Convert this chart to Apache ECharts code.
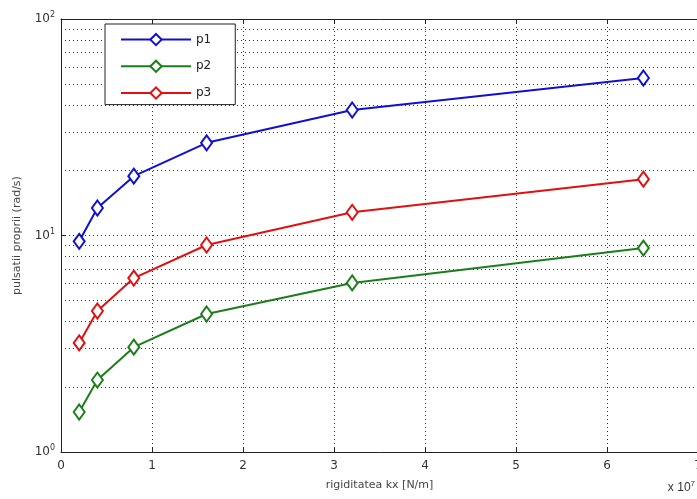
<!DOCTYPE html>
<html>
<head>
<meta charset="utf-8">
<script src="https://cdn.jsdelivr.net/npm/echarts@6/dist/echarts.min.js"></script>
<style>html,body{margin:0;padding:0;background:#fff;}</style>
</head>
<body>
<div id="main" style="width:697px;height:499px;"></div>
<script>
// rigiditatea kx (x 10^7 N/m)
var kx = [0.2, 0.4, 0.8, 1.6, 3.2, 6.4];
var p1 = [9.4, 13.4, 18.8, 26.8, 38.0, 53.4];
var p2 = [1.53, 2.15, 3.05, 4.34, 6.04, 8.75];
var p3 = [3.19, 4.48, 6.36, 9.04, 12.8, 18.2];
var minorY = [2, 3, 4, 5, 6, 7, 8, 9, 20, 30, 40, 50, 60, 70, 80, 90];
var xTicks = [0, 1, 2, 3, 4, 5, 6, 7];

function pairs(ys) {
    return kx.map(function (x, i) { return [x, ys[i]]; });
}

function lineSeries(name, ys, col) {
    return {
        name: name,
        type: 'line',
        data: pairs(ys),
        symbol: 'diamond',
        symbolSize: [11, 15],
        lineStyle: {width: 2, color: col},
        itemStyle: {color: '#fff', borderColor: col, borderWidth: 2},
        z: 5
    };
}

var dotted = {color: '#333', type: [1, 3], width: 1};

var chart = echarts.init(document.getElementById('main'));
var s1 = lineSeries('p1', p1, '#1010d0');
var s2 = lineSeries('p2', p2, '#1a7f1a');
var s3 = lineSeries('p3', p3, '#e01010');
s2.markLine = {
    silent: true,
    symbol: 'none',
    label: {show: false},
    lineStyle: dotted,
    z: 1,
    data: minorY.map(function (v) { return {yAxis: v}; })
};

var option = {
    animation: false,
    textStyle: {fontFamily: 'DejaVu Sans'},
    grid: {left: 61, right: -1, top: 19, bottom: 47, outerBoundsMode: 'none', containLabel: false},
    legend: {
        data: ['p1', 'p2', 'p3'],
        orient: 'vertical',
        left: 105,
        top: 24,
        padding: [9, 24, 5, 15],
        itemGap: 13.5,
        itemWidth: 70,
        itemHeight: 14,
        backgroundColor: '#fff',
        borderColor: '#222',
        borderWidth: 1,
        z: 10,
        textStyle: {fontSize: 12, color: '#222'}
    },
    xAxis: [{
        type: 'value',
        min: xTicks[0],
        max: xTicks[xTicks.length - 1],
        interval: 1,
        name: 'rigiditatea kx [N/m]',
        nameLocation: 'middle',
        nameGap: 28,
        nameTextStyle: {fontSize: 11, color: '#444'},
        axisLine: {onZero: false, lineStyle: {color: '#222'}},
        axisTick: {inside: true, length: 5, lineStyle: {color: '#222'}},
        axisLabel: {fontSize: 12, color: '#333', margin: 8},
        splitLine: {show: true, lineStyle: dotted}
    }, {
        type: 'value',
        position: 'top',
        min: xTicks[0],
        max: xTicks[xTicks.length - 1],
        interval: 1,
        axisLine: {show: true, lineStyle: {color: '#222'}},
        axisTick: {inside: true, length: 5, lineStyle: {color: '#222'}},
        axisLabel: {show: false},
        splitLine: {show: false}
    }],
    yAxis: {
        type: 'log',
        logBase: 10,
        min: 1,
        max: 100,
        name: 'pulsatii proprii (rad/s)',
        nameLocation: 'middle',
        nameGap: 38,
        nameTextStyle: {fontSize: 11, color: '#444'},
        axisLine: {show: true, lineStyle: {color: '#222'}},
        axisTick: {show: true, inside: true, length: 5, lineStyle: {color: '#222'}},
        axisLabel: {
            fontSize: 12,
            color: '#333',
            margin: 6,
            formatter: function (v) {
                return '10{s|' + Math.round(Math.log10(v)) + '}';
            },
            rich: {s: {fontSize: 8, verticalAlign: 'top', padding: [0, 0, 8, 0], color: '#333'}}
        },
        splitLine: {show: true, lineStyle: dotted}
    },
    series: [s1, s2, s3],
    graphic: [{
        type: 'text',
        right: 2,
        top: 480,
        style: {
            text: 'x 10{s|7}',
            fontSize: 12,
            fill: '#333',
            rich: {s: {fontSize: 8, verticalAlign: 'top', padding: [0, 0, 8, 0]}}
        }
    }]
};
chart.setOption(option);
</script>
</body>
</html>
